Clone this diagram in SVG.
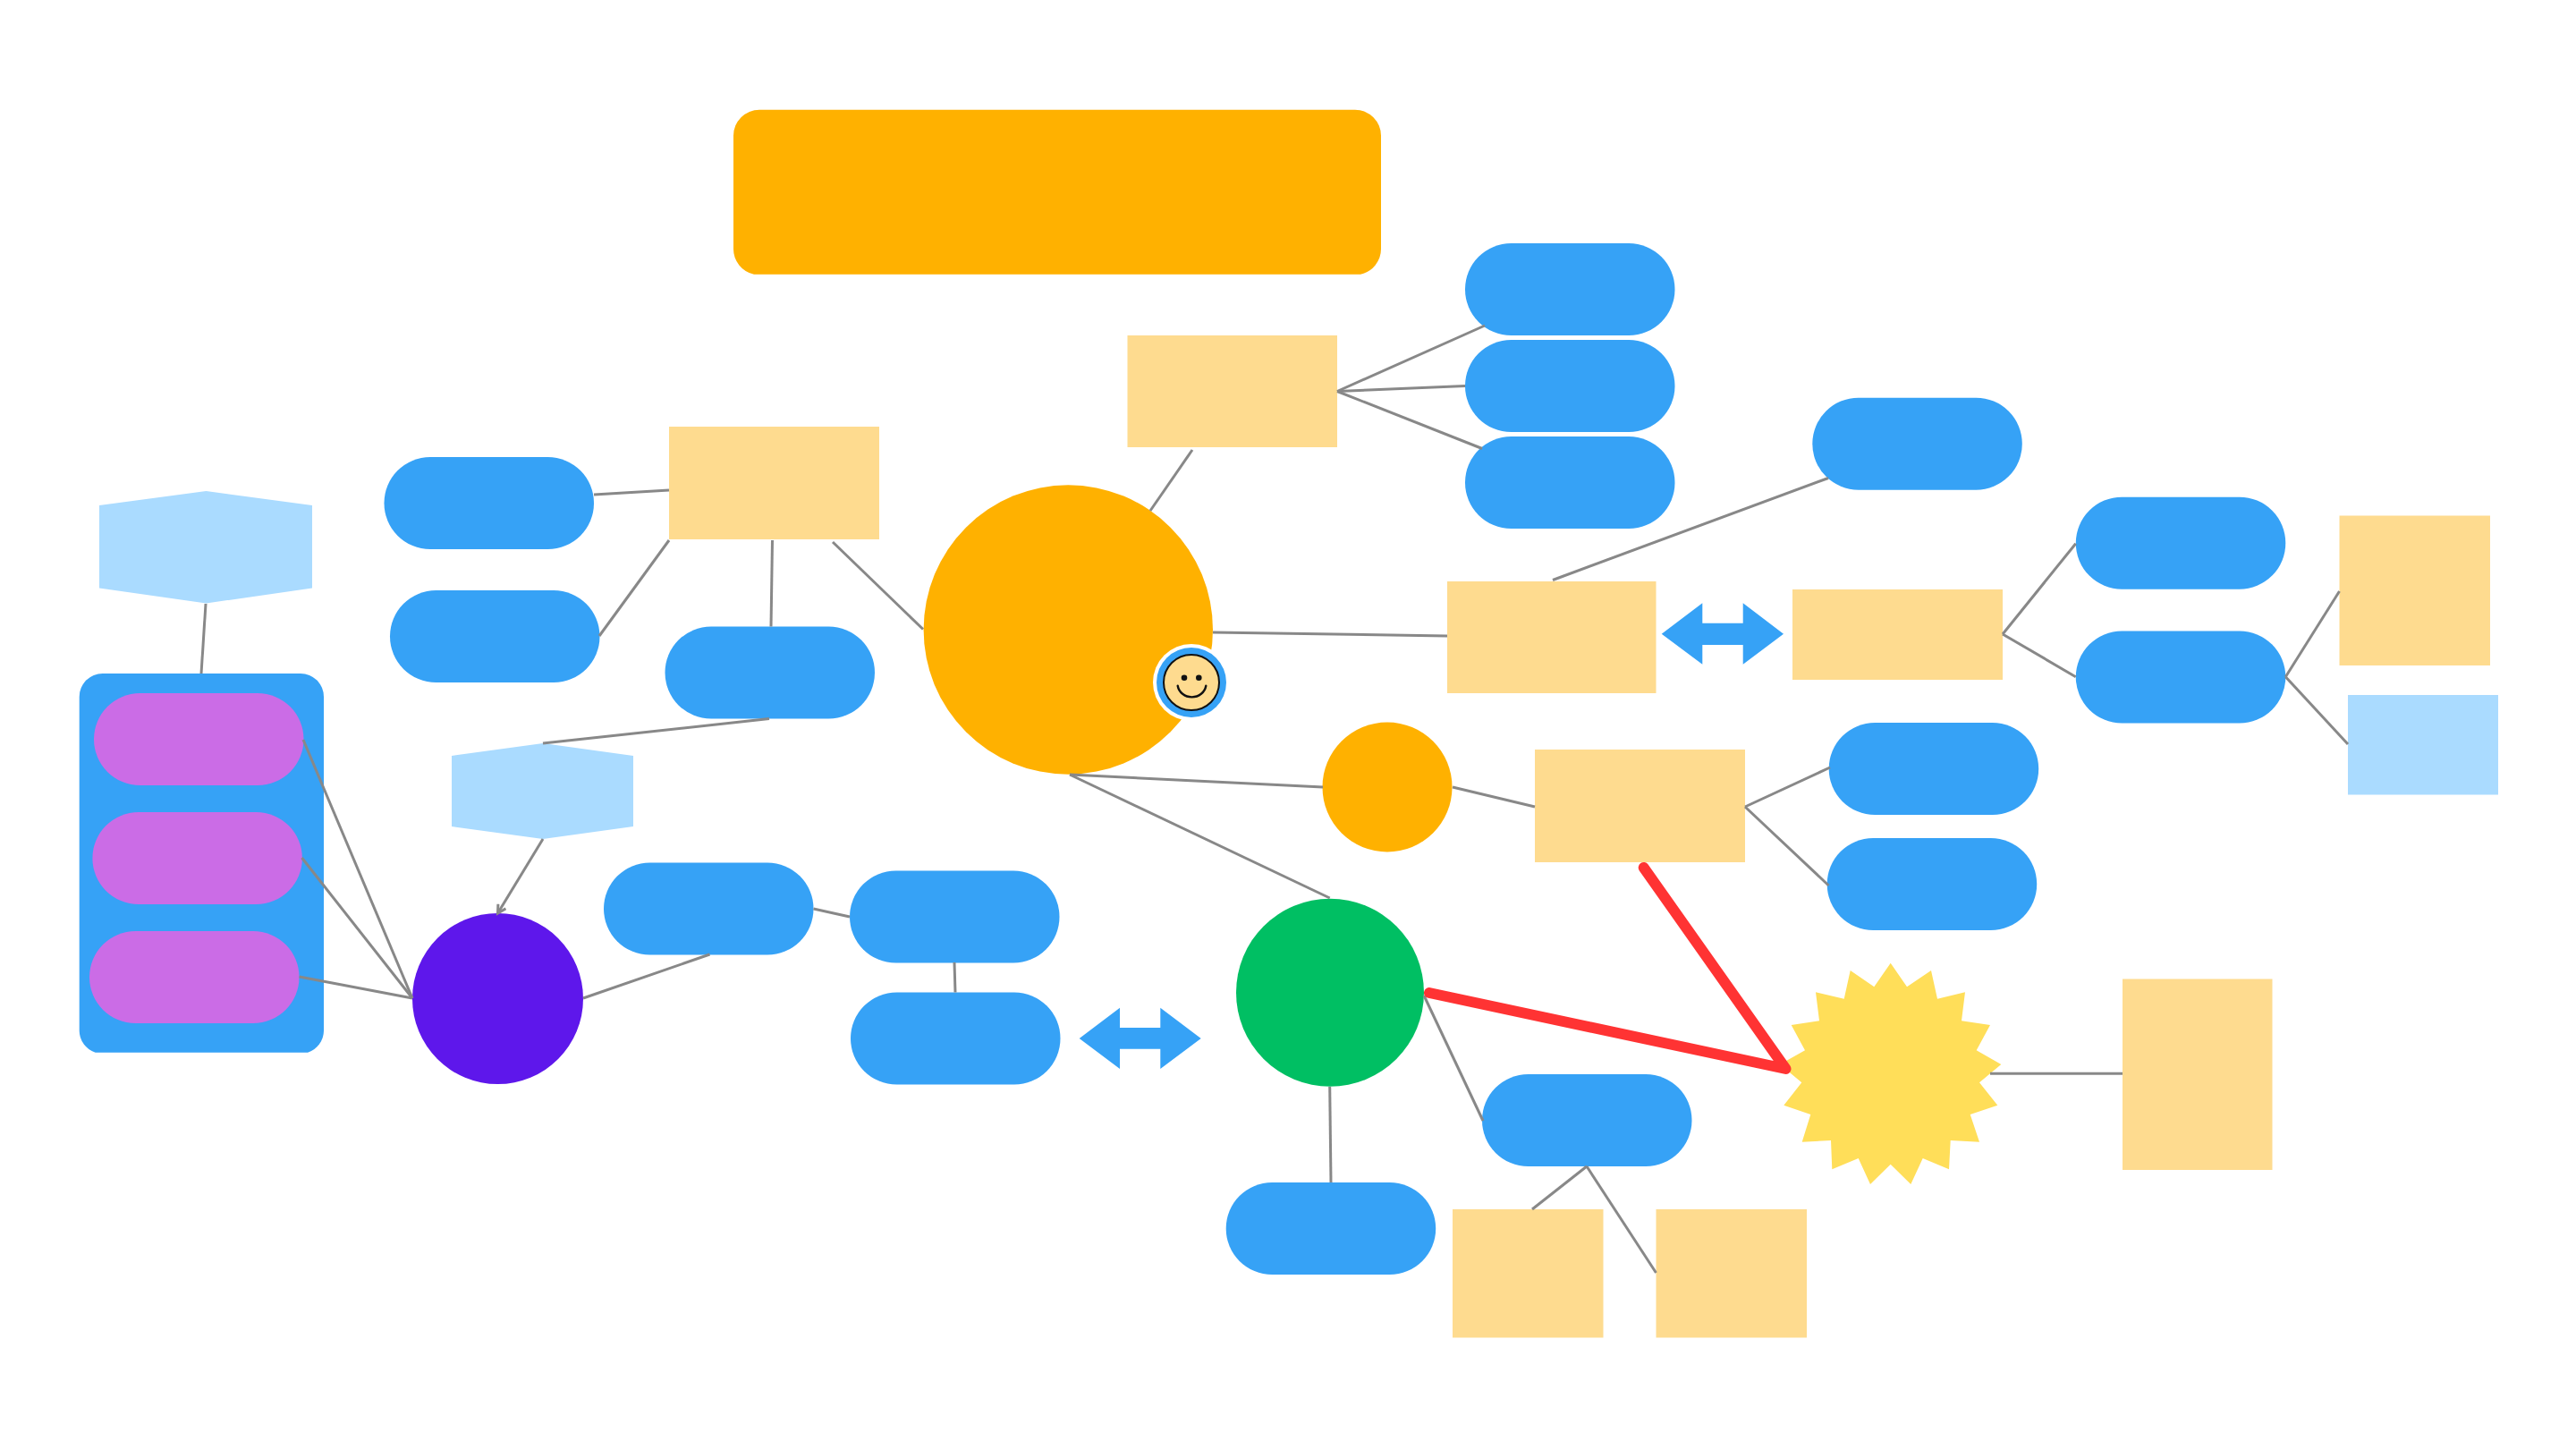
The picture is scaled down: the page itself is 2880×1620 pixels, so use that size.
<svg xmlns="http://www.w3.org/2000/svg" width="2880" height="1620" viewBox="0 0 2880 1620">
<style>
.pill{fill:#36A2F6}
.pur{fill:#CB6CE6}
.tan{fill:#FEDB8F}
.lb{fill:#AADBFF}
.org{fill:#FFB100}
.con{stroke:#888888;stroke-width:3;fill:none}
.arr{fill:#36A2F6}
</style>
<defs>
<marker id="open" markerWidth="14" markerHeight="14" refX="10" refY="6" orient="auto" markerUnits="userSpaceOnUse"><path d="M1 1L10 6L1 11" fill="none" stroke="#888888" stroke-width="3"/></marker>
</defs>
<rect width="2880" height="1620" fill="#ffffff"/>
<g id="title"><path class="org" d="M849 122.7H1515A29 29 0 0 1 1544 151.7V278A29 29 0 0 1 1521 306.7H843A29 29 0 0 1 820 278V151.7A29 29 0 0 1 849 122.7Z"/></g>
<g id="main-circle"><circle class="org" cx="1194.3" cy="704" r="161.7"/></g>
<g id="orange-circle"><circle class="org" cx="1551" cy="880" r="72.5"/></g>
<g id="green-circle"><circle fill="#00BF63" cx="1487" cy="1109.7" r="105"/></g>
<g id="purple-circle"><circle fill="#5E17EB" cx="556.5" cy="1116.5" r="95.5"/></g>
<g id="container"><path class="pill" d="M114.7 753H336A26 26 0 0 1 362 779V1152A26 26 0 0 1 344.1 1176.7H106.6A26 26 0 0 1 88.7 1152V779A26 26 0 0 1 114.7 753Z"/></g>
<g id="sub1"><rect class="pur" x="105" y="775" width="234.5" height="103" rx="51.5"/></g>
<g id="sub2"><rect class="pur" x="103.4" y="908" width="234.5" height="103" rx="51.5"/></g>
<g id="sub3"><rect class="pur" x="100" y="1041" width="234.5" height="103" rx="51.5"/></g>
<g id="hex1"><polygon class="lb" points="230.5,549 349,565 349,657.5 230.5,674.5 111,657.5 111,565"/></g>
<g id="hex2"><polygon class="lb" points="607,831 708,845 708,924 607,938 505,924 505,845"/></g>
<g id="pill-a"><rect class="pill" x="429.5" y="511" width="234.5" height="103" rx="51.5"/></g>
<g id="pill-b"><rect class="pill" x="436" y="660" width="234.5" height="103" rx="51.5"/></g>
<g id="pill-c"><rect class="pill" x="743.5" y="700.5" width="234.5" height="103" rx="51.5"/></g>
<g id="pill-d"><rect class="pill" x="675" y="964.5" width="234.5" height="103" rx="51.5"/></g>
<g id="pill-e"><rect class="pill" x="950" y="973.5" width="234.5" height="103" rx="51.5"/></g>
<g id="pill-f"><rect class="pill" x="951" y="1109.5" width="234.5" height="103" rx="51.5"/></g>
<g id="pill-g"><rect class="pill" x="1638" y="272" width="234.5" height="103" rx="51.5"/></g>
<g id="pill-h"><rect class="pill" x="1638" y="380" width="234.5" height="103" rx="51.5"/></g>
<g id="pill-i"><rect class="pill" x="1638" y="488" width="234.5" height="103" rx="51.5"/></g>
<g id="pill-j"><rect class="pill" x="2026.3" y="444.7" width="234.5" height="103" rx="51.5"/></g>
<g id="pill-k"><rect class="pill" x="2320.8" y="555.7" width="234.5" height="103" rx="51.5"/></g>
<g id="pill-l"><rect class="pill" x="2320.8" y="705.5" width="234.5" height="103" rx="51.5"/></g>
<g id="pill-m"><rect class="pill" x="2044.7" y="808" width="234.5" height="103" rx="51.5"/></g>
<g id="pill-n"><rect class="pill" x="2042.7" y="937" width="234.5" height="103" rx="51.5"/></g>
<g id="pill-o"><rect class="pill" x="1657" y="1201" width="234.5" height="103" rx="51.5"/></g>
<g id="pill-p"><rect class="pill" x="1370.7" y="1322" width="234.5" height="103" rx="51.5"/></g>
<g id="box-1"><rect class="tan" x="748" y="477" width="235" height="126"/></g>
<g id="box-2"><rect class="tan" x="1260.5" y="375" width="234.5" height="125"/></g>
<g id="box-3"><rect class="tan" x="1618" y="650" width="233.5" height="125"/></g>
<g id="box-4"><rect class="tan" x="2004" y="659" width="235" height="101"/></g>
<g id="box-5"><rect class="tan" x="1716" y="838" width="235" height="126"/></g>
<g id="box-6"><rect class="tan" x="2615.5" y="576.5" width="168.5" height="167.5"/></g>
<g id="box-7"><rect class="lb" x="2625" y="777" width="168" height="111.5"/></g>
<g id="box-8"><rect class="tan" x="2373" y="1094.5" width="167.5" height="213.5"/></g>
<g id="box-9"><rect class="tan" x="1624" y="1352" width="168.5" height="143.5"/></g>
<g id="box-10"><rect class="tan" x="1851.5" y="1352" width="168.5" height="143.5"/></g>
<g id="star"><polygon fill="#FFDE59" points="2113.7,1076.7 2132,1103.3 2159,1085 2166,1116.7 2197,1109.3 2193,1141.3 2225,1146 2209.7,1174.3 2237.3,1190 2213,1210.3 2233.3,1235.7 2202.7,1246 2213,1276.7 2180.7,1275 2179,1307.3 2149.7,1295 2136.3,1324 2113.7,1301.7 2091,1324 2077.7,1295 2048.3,1307.3 2047,1275 2014.7,1276.7 2024.3,1246 1994.3,1235.7 2014.3,1210.3 1990,1190 2018,1174.3 2002.7,1146 2034,1141.3 2030,1109.3 2061.7,1116.7 2068.7,1085 2095.3,1103.3"/></g>
<g id="arrow-1"><polygon class="arr" points="1206.7,1161 1252,1126.7 1252,1149 1297.3,1149 1297.3,1126.7 1342.7,1161 1297.3,1195 1297.3,1172.7 1252,1172.7 1252,1195"/></g>
<g id="arrow-2"><polygon class="arr" points="1857.7,708.7 1903.3,674.3 1903.3,696.7 1948.7,696.7 1948.7,674.3 1994,708.7 1948.7,742.7 1948.7,721 1903.3,721 1903.3,742.7"/></g>
<g id="connectors">
<line class="con" x1="1286" y1="571" x2="1333" y2="503"/>
<line class="con" x1="1495" y1="437.5" x2="1660" y2="364"/>
<line class="con" x1="1495" y1="437.5" x2="1638" y2="431.5"/>
<line class="con" x1="1495" y1="437.5" x2="1657" y2="501.5"/>
<line class="con" x1="1356" y1="707" x2="1618" y2="711"/>
<line class="con" x1="1736" y1="648.5" x2="2044" y2="534.5"/>
<line class="con" x1="2239" y1="709" x2="2320.7" y2="607.7"/>
<line class="con" x1="2239" y1="709" x2="2320.7" y2="756.7"/>
<line class="con" x1="2555.3" y1="756.7" x2="2615.5" y2="661"/>
<line class="con" x1="2555.3" y1="756.7" x2="2625" y2="832"/>
<line class="con" x1="1196" y1="866" x2="1479" y2="880"/>
<line class="con" x1="1624" y1="880" x2="1716" y2="902"/>
<line class="con" x1="1951" y1="902" x2="2046" y2="858"/>
<line class="con" x1="1951" y1="902" x2="2044.5" y2="990"/>
<line class="con" x1="1196" y1="866" x2="1486.7" y2="1004"/>
<line class="con" x1="1486.7" y1="1215" x2="1488" y2="1322"/>
<line class="con" x1="1592" y1="1113" x2="1658" y2="1253"/>
<line class="con" x1="1774" y1="1304" x2="1713" y2="1352"/>
<line class="con" x1="1774" y1="1304" x2="1851.5" y2="1423"/>
<line class="con" x1="2225" y1="1200.3" x2="2373" y2="1200.3"/>
<line class="con" x1="1032" y1="703.5" x2="931" y2="606"/>
<line class="con" x1="748" y1="548" x2="664" y2="553"/>
<line class="con" x1="748" y1="604" x2="670" y2="711"/>
<line class="con" x1="863.5" y1="604" x2="862" y2="700.5"/>
<line class="con" x1="860" y1="803.5" x2="607" y2="831"/>
<line class="con" x1="607" y1="938" x2="556.5" y2="1021" marker-end="url(#open)"/>
<line class="con" x1="652" y1="1116" x2="793.5" y2="1067"/>
<line class="con" x1="909.5" y1="1016" x2="950" y2="1025"/>
<line class="con" x1="1067" y1="1076" x2="1068" y2="1109.5"/>
<line class="con" x1="461" y1="1116" x2="339" y2="827"/>
<line class="con" x1="461" y1="1116" x2="337.5" y2="959"/>
<line class="con" x1="461" y1="1116" x2="334.6" y2="1092"/>
<line class="con" x1="230" y1="675" x2="225" y2="753"/>
<polyline fill="none" stroke="#FF3333" stroke-width="12" stroke-linecap="round" stroke-linejoin="round" points="1837.7,970 1996.5,1195 1598,1110"/>
</g>
<g id="smiley">
<circle cx="1332" cy="763" r="43" fill="#ffffff"/>
<circle cx="1332" cy="763" r="39" fill="#36A2F6"/>
<circle cx="1332" cy="763" r="31" fill="#FEDB8F" stroke="#111111" stroke-width="2"/>
<circle cx="1324" cy="757.7" r="3.3" fill="#111111"/>
<circle cx="1340.3" cy="757.7" r="3.3" fill="#111111"/>
<path d="M1316.7 766.7A16 15 0 0 0 1348.3 766.7" fill="none" stroke="#111111" stroke-width="2.4" stroke-linecap="round"/>
</g>
</svg>
